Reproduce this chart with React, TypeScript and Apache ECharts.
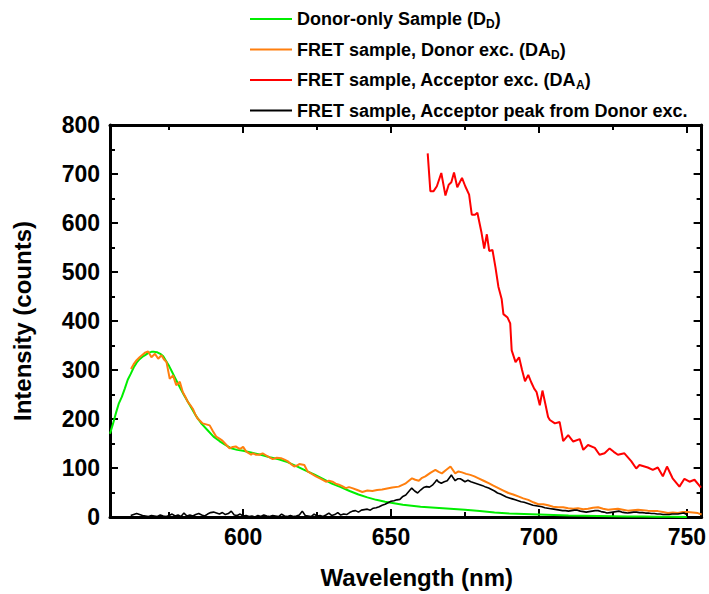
import React, { useEffect, useRef } from "react";
import * as echarts from "echarts";

const FONT = "'Liberation Sans', Arial, sans-serif";

const xMajorTicks = [600, 650, 700, 750];
const xMinorTicks = [575, 625, 675, 725];

const seriesNames = [
  "Donor-only Sample (DD)",
  "FRET sample, Donor exc. (DAD)",
  "FRET sample, Acceptor exc. (DAA)",
  "FRET sample, Acceptor peak from Donor exc.",
];
const legendLabels = [
  "Donor-only Sample (D{s|D})",
  "FRET sample, Donor exc. (DA{s|D})",
  "FRET sample, Acceptor exc. (DA{s|A})",
  "FRET sample, Acceptor peak from Donor exc.",
];
const seriesColors = ["#00ee00", "#ff7f0e", "#ff0000", "#000000"];

const donorOnly = [
  [555, 170], [556, 190], [557, 212], [558, 232], [559, 245], [560, 262], [561, 280], [562, 292],
  [563, 305], [564, 315], [565, 322], [566, 327], [567, 331], [568, 335], [569, 337], [570, 337],
  [571, 336], [572, 333], [573, 328], [574, 318], [575, 308], [576, 296], [577, 284], [578, 272],
  [579, 260], [580, 249], [582, 228], [584, 207], [586, 190], [588, 177], [590, 164], [592, 155],
  [594, 147], [596, 140], [598, 137], [600, 135], [603, 131], [606, 127], [609, 122], [612, 118],
  [615, 112], [618, 104], [621, 95], [624, 87], [627, 78], [630, 68], [633, 61], [636, 53],
  [639, 46], [642, 40], [645, 35], [648, 31], [651, 28], [654, 25], [657, 23], [660, 21],
  [665, 19], [670, 17], [675, 15], [680, 12], [685, 9], [690, 7], [695, 6], [700, 5],
  [705, 4], [710, 3], [715, 2.5], [720, 2], [725, 1.5], [730, 1], [735, 1], [740, 0.5],
  [745, 0.5], [750, 0],
];

const fretDonorExc = [
  [562.1, 302], [563, 312], [564, 320], [565, 326], [566, 331], [567, 336], [567.9, 338], [569, 326],
  [570.2, 333], [571.3, 323], [572.4, 330], [573.2, 322], [574.1, 316], [575.2, 282], [576.3, 289],
  [577.4, 269], [578.6, 276], [579.6, 255], [580.5, 245], [581.3, 235], [582.2, 228], [583, 221],
  [583.8, 210], [584.6, 201], [585.5, 196], [586.3, 191], [587.5, 189], [588.7, 187], [589.8, 175],
  [590.9, 164], [592, 160], [593, 156], [594.2, 148], [595.4, 140], [596.5, 143], [597.5, 144],
  [598.5, 140], [599.3, 140], [600, 143], [601, 134], [602, 130], [602.7, 127], [603.3, 130],
  [604.4, 127], [605.5, 127], [606.6, 130], [607.7, 126], [608.8, 122], [610, 118], [611.4, 121],
  [612.8, 120], [614, 117], [615, 114], [616.2, 108], [617.3, 103], [618.2, 105], [619, 108],
  [620.7, 106], [621.8, 93], [623.2, 88], [624.6, 83], [626.3, 78], [628, 72], [629, 74],
  [630.2, 72], [631.3, 68], [632.4, 66], [633.5, 63], [634.7, 59], [635.8, 61], [636.9, 59],
  [638.6, 55], [640.3, 51], [642, 54], [643.7, 53], [645.3, 55], [647, 56], [648.7, 58],
  [650.4, 60], [652.6, 62], [654.8, 68], [657.1, 79], [658.2, 76], [659.4, 74], [660.5, 80],
  [661.6, 83], [663.3, 90], [665, 96], [666.1, 92], [667.2, 89], [668.6, 96], [670.1, 103],
  [671.7, 89], [672.8, 93], [674, 91], [675.4, 88], [676.8, 86], [678.2, 83], [679.6, 79],
  [681.3, 74], [683, 69], [684.6, 64], [686.3, 59], [688, 54], [689.7, 49], [691.3, 46],
  [693, 42], [694.7, 38], [696.4, 35], [698.1, 30], [699.8, 26], [701.5, 26], [703.1, 24],
  [704.8, 21], [706.5, 20], [708.2, 20], [709.9, 18], [711.6, 17], [713.2, 18], [715, 16],
  [716.6, 17], [718.3, 19], [720, 20], [721.7, 17], [723.4, 15], [725, 16], [726.7, 17],
  [728.4, 15], [730.1, 13], [731.8, 14], [733.5, 15], [735.2, 14], [736.8, 13], [738.5, 12],
  [740.2, 12], [741.9, 10], [743.6, 8], [745.3, 9], [747, 8], [748.6, 10], [750.3, 10],
  [752, 9], [753.7, 8], [755, 5],
];

const fretAcceptorExc = [
  [662.4, 742], [663.3, 665], [664.4, 665], [665.5, 675], [667, 702], [668.4, 656], [669.5, 678],
  [670.4, 683], [671.3, 703], [672.4, 673], [674, 692], [675.1, 675], [676.4, 658], [677.3, 617],
  [678.4, 617], [679.2, 621], [680.6, 580], [681.5, 548], [682.4, 577], [683.2, 543], [684.3, 545],
  [685.3, 510], [686.3, 470], [687.4, 445], [688, 414], [689.4, 407], [690.3, 395], [690.8, 340],
  [692.1, 316], [693.3, 326], [694.3, 300], [695.3, 277], [696.4, 290], [697.4, 275], [698.4, 262],
  [699.2, 255], [700.3, 228], [701.2, 258], [702.2, 230], [703.1, 204], [703.7, 198], [705.4, 191],
  [707, 194], [708.2, 155], [709.9, 167], [711.6, 154], [713.8, 159], [715, 137], [716.6, 147],
  [718.9, 141], [720.5, 127], [722.2, 130], [723.9, 140], [725.3, 133], [726.7, 127], [728.9, 130],
  [731.2, 114], [732.9, 99], [734, 106], [736.8, 101], [738.5, 96], [740.2, 101], [741.9, 83],
  [743.3, 103], [745.2, 79], [747.5, 62], [749.2, 78], [750.9, 72], [752.6, 76], [754.8, 60],
];

const acceptorPeak = [
  [562, 3], [563, 5], [564, 7], [565, 5], [566, 3], [567, 2], [568, 1], [569, 3], [570, 2],
  [571, 1], [572, 4], [573, 2], [574, 1], [575, 3], [576, 6], [577, 2], [578, 4], [579, 1],
  [580, 8], [581, 2], [582, 4], [583, 2], [584, 5], [585, 7], [586, 4], [587, 2], [588, 6],
  [589, 9], [590, 10], [591, 8], [592, 6], [593, 9], [594, 5], [595, 7], [596, 12], [597, 4],
  [598, 3], [599, 6], [600, 2], [601, 3], [602, 1], [603, 2], [604, 0], [605, 3], [606, 1],
  [607, 4], [608, 2], [609, 1], [610, 3], [611, 2], [612, 1], [613, 6], [614, 2], [615, 1],
  [616, 3], [617, 1], [618, 2], [619, 4], [620, 12], [621, 3], [622, 2], [623, 1], [624, 6],
  [625, 2], [626, 3], [627, 1], [628, 4], [629, 8], [630, 3], [631, 5], [632, 9], [633, 4],
  [634, 6], [635, 5], [636, 9], [637, 12], [638, 13], [639, 10], [640, 14], [641, 15], [642, 16],
  [643, 14], [644, 18], [645, 19], [646, 21], [647, 24], [648, 26], [649, 29], [650, 32],
  [651, 33], [652, 35], [653, 36], [654, 42], [655, 45], [656, 52], [657, 59], [658, 53],
  [659, 49], [660, 55], [661, 60], [662, 62], [663, 61], [664, 65], [665, 72], [665.5, 76],
  [666, 72], [667, 69], [668, 72], [669, 74], [670, 82], [670.4, 86], [671, 80], [671.7, 74],
  [672.5, 78], [673.4, 78], [674, 76], [675, 72], [676, 75], [677, 72], [678, 70], [679, 68],
  [680, 66], [681, 64], [682, 61], [683, 59], [684, 56], [685, 53], [686, 49], [687, 47],
  [688, 44], [689, 41], [690, 39], [691, 37], [692, 35], [693, 33], [694, 31], [695, 30],
  [696, 28], [697, 26], [698, 24], [699, 23], [700, 22], [701, 21], [702, 19], [703, 18],
  [704, 17], [705, 16], [706, 15], [707, 14], [708, 13], [709, 13], [710, 12], [711, 13],
  [712, 14], [713, 14], [714, 12], [715, 11], [716, 10], [717, 11], [718, 12], [719, 13],
  [720, 13], [721, 11], [722, 10], [723, 8], [724, 9], [725, 10], [726, 11], [727, 12],
  [728, 10], [729, 9], [730, 8], [731, 9], [732, 10], [733, 10], [734, 9], [735, 9], [736, 8],
  [737, 8], [738, 7], [739, 7], [740, 6], [741, 6], [742, 5], [743, 5], [744, 5], [745, 6],
  [746, 6], [747, 6], [748, 7], [749, 8], [750, 5],
];

const seriesData = [donorOnly, fretDonorExc, fretAcceptorExc, acceptorPeak];

export default function App() {
  const ref = useRef<HTMLDivElement>(null);
  useEffect(() => {
    document.body.style.margin = "0";
    if (!ref.current) return;
    const chart = echarts.init(ref.current, null, { renderer: "svg" });
    const axisLineStyle = { color: "#000", width: 3 };
    const tickStyle = { color: "#000", width: 2 };
    const labelStyle = { fontSize: 23, fontWeight: "bold" as const, color: "#000", fontFamily: FONT };
    const nameStyle = { fontSize: 24, fontWeight: "bold" as const, color: "#000", fontFamily: FONT };
    const xBase = { type: "value" as const, min: 555, max: 755, splitLine: { show: false } };
    const yBase = { type: "value" as const, min: 0, max: 800, interval: 100, splitLine: { show: false } };
    chart.setOption({
      animation: false,
      backgroundColor: "#fff",
      grid: { left: 110, right: 5, top: 125, bottom: 75 },
      legend: {
        orient: "vertical",
        left: 245,
        top: 3,
        icon: "rect",
        itemWidth: 42,
        itemHeight: 2,
        itemGap: 8.5,
        data: seriesNames,
        formatter: (name: string) => legendLabels[seriesNames.indexOf(name)],
        textStyle: {
          fontSize: 18,
          fontWeight: "bold",
          color: "#000",
          fontFamily: FONT,
          lineHeight: 22,
          rich: {
            s: { fontSize: 12, fontWeight: "bold", color: "#000", fontFamily: FONT, lineHeight: 4, verticalAlign: "bottom" },
          },
        },
      },
      xAxis: [
        {
          ...xBase,
          position: "bottom",
          axisLine: { show: true, onZero: false, lineStyle: axisLineStyle },
          axisTick: { show: true, inside: true, length: 8, lineStyle: tickStyle, customValues: xMajorTicks },
          axisLabel: { ...labelStyle, margin: 8, customValues: xMajorTicks },
          name: "Wavelength (nm)",
          nameLocation: "middle",
          nameGap: 48,
          nameTextStyle: { ...nameStyle, padding: [0, 0, 0, 22] },
        },
        {
          ...xBase,
          position: "bottom",
          axisLine: { show: false, onZero: false },
          axisTick: { show: true, inside: true, length: 5, lineStyle: tickStyle, customValues: xMinorTicks },
          axisLabel: { show: false },
        },
        {
          ...xBase,
          position: "top",
          axisLine: { show: true, onZero: false, lineStyle: axisLineStyle },
          axisTick: { show: true, inside: true, length: 8, lineStyle: tickStyle, customValues: xMajorTicks },
          axisLabel: { show: false },
        },
        {
          ...xBase,
          position: "top",
          axisLine: { show: false, onZero: false },
          axisTick: { show: true, inside: true, length: 5, lineStyle: tickStyle, customValues: xMinorTicks },
          axisLabel: { show: false },
        },
      ],
      yAxis: [
        {
          ...yBase,
          position: "left",
          axisLine: { show: true, onZero: false, lineStyle: axisLineStyle },
          axisTick: { show: true, inside: true, length: 8, lineStyle: tickStyle },
          minorTick: { show: true, splitNumber: 2, length: 5, lineStyle: tickStyle },
          axisLabel: { ...labelStyle, margin: 10 },
          name: "Intensity (counts)",
          nameLocation: "middle",
          nameGap: 76,
          nameRotate: 90,
          nameTextStyle: nameStyle,
        },
        {
          ...yBase,
          position: "right",
          axisLine: { show: true, onZero: false, lineStyle: axisLineStyle },
          axisTick: { show: true, inside: true, length: 8, lineStyle: tickStyle },
          minorTick: { show: true, splitNumber: 2, length: 5, lineStyle: tickStyle },
          axisLabel: { show: false },
        },
      ],
      series: seriesData.map((d, i) => ({
        name: seriesNames[i],
        type: "line",
        xAxisIndex: 0,
        yAxisIndex: 0,
        data: d,
        symbol: "none",
        showSymbol: false,
        lineStyle: { color: seriesColors[i], width: i === 3 ? 1.6 : 2 },
        itemStyle: { color: seriesColors[i] },
        z: 2 + i,
      })),
    });
    return () => chart.dispose();
  }, []);
  return <div ref={ref} style={{ width: 709, height: 594 }} />;
}
